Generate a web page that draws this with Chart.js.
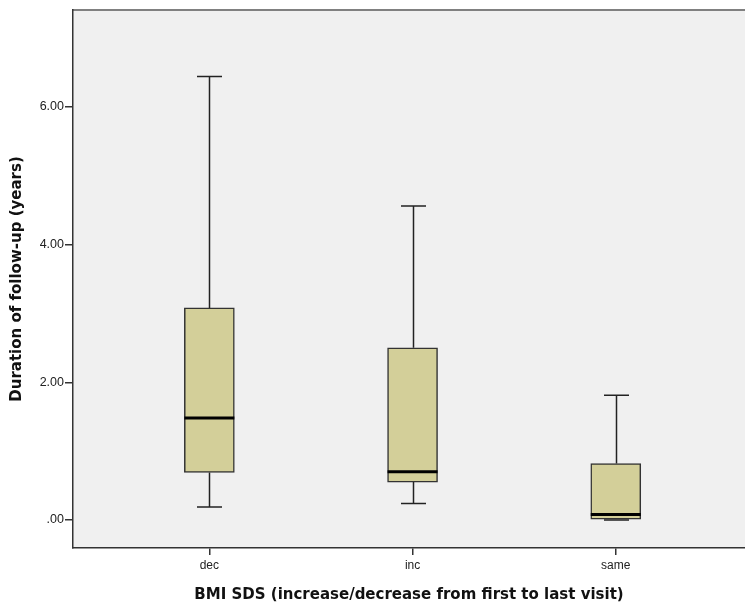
<!DOCTYPE html>
<html>
<head>
  <title>Box plot - duration of follow-up</title>
  <script src="https://cdn.jsdelivr.net/npm/chart.js"></script>
  <style>
    html, body { margin: 0; padding: 0; background: #fff; }
    #wrap { width: 745px; height: 608px; }
  </style>
</head>
<body>
  <div id="wrap"><canvas id="myChart"></canvas></div>
  <script>
    // values (years)
    const groups = ['dec', 'inc', 'same'];
    const groupPos = [1, 2, 3];
    const whiskerLow = [0.19, 0.24, 0.00];
    const q1 = [0.69, 0.55, 0.00];
    const median = [1.48, 0.70, 0.08];
    const q3 = [3.08, 2.50, 0.82];
    const whiskerHigh = [6.44, 4.56, 1.81];
    const yTicks = [0, 2, 4, 6];
    const yTickLabels = ['.00', '2.00', '4.00', '6.00'];

    const boxData = groupPos.map((x, i) => ({ x: x, y: [q1[i], q3[i]] }));

    // whiskers, caps and median drawn with the chart's own scales
    const boxExtras = {
      id: 'boxExtras',
      beforeDraw(chart) {
        const { ctx, chartArea: a } = chart;
        ctx.save();
        ctx.fillStyle = '#f0f0f0';
        ctx.fillRect(a.left, a.top, a.right - a.left, a.bottom - a.top);
        ctx.strokeStyle = '#808080';
        ctx.lineWidth = 2;
        ctx.beginPath();
        ctx.moveTo(a.left, a.top);
        ctx.lineTo(a.right, a.top);
        ctx.stroke();
        ctx.restore();
      },
      afterDatasetsDraw(chart) {
        const { ctx, scales: { x, y } } = chart;
        ctx.save();
        ctx.strokeStyle = '#222';
        ctx.lineWidth = 1.5;
        groupPos.forEach((p, i) => {
          const cx = Math.round(x.getPixelForValue(p)) + 0.5;
          const lo = y.getPixelForValue(whiskerLow[i]);
          const hi = y.getPixelForValue(whiskerHigh[i]);
          const b1 = y.getPixelForValue(q1[i]);
          const b3 = y.getPixelForValue(q3[i]);
          ctx.beginPath();
          ctx.moveTo(cx, b3); ctx.lineTo(cx, hi);
          ctx.moveTo(cx - 12.5, hi); ctx.lineTo(cx + 12.5, hi);
          if (b1 - lo !== 0) {
            ctx.moveTo(cx, b1); ctx.lineTo(cx, lo);
          }
          ctx.moveTo(cx - 12.5, lo); ctx.lineTo(cx + 12.5, lo);
          ctx.stroke();
        });
        ctx.strokeStyle = '#000';
        ctx.lineWidth = 3;
        groupPos.forEach((p, i) => {
          const cx = x.getPixelForValue(p);
          const m = y.getPixelForValue(median[i]);
          ctx.beginPath();
          ctx.moveTo(cx - 25, m); ctx.lineTo(cx + 25, m);
          ctx.stroke();
        });
        ctx.restore();
      }
    };

    const ctx = document.getElementById('myChart').getContext('2d');
    new Chart(ctx, {
      type: 'bar',
      data: {
        datasets: [{
          label: 'Duration of follow-up',
          data: boxData,
          backgroundColor: 'rgb(211, 207, 153)',
          borderColor: '#333',
          borderWidth: 1.5,
          borderSkipped: false,
          barThickness: 50
        }]
      },
      options: {
        responsive: true,
        maintainAspectRatio: false,
        animation: false,
        layout: { padding: { top: 10, right: 0, left: 0, bottom: 0 } },
        plugins: { legend: { display: false }, tooltip: { enabled: false } },
        scales: {
          x: {
            type: 'linear',
            min: 0.329,
            max: 3.636,
            offset: false,
            afterBuildTicks: (scale) => { scale.ticks = groupPos.map(v => ({ value: v })); },
            afterFit: (scale) => { scale.height = 60; },
            ticks: {
              autoSkip: false,
              maxRotation: 0,
              padding: 3,
              color: '#222',
              font: { family: 'Liberation Sans', size: 12 },
              callback: (v) => groups[groupPos.indexOf(v)]
            },
            grid: { offset: false, drawOnChartArea: false, drawTicks: true, tickLength: 7, color: '#333', lineWidth: 1.5 },
            border: { display: true, color: '#333', width: 1.5 },
            title: {
              display: true,
              text: 'BMI SDS (increase/decrease from first to last visit)',
              color: '#111',
              font: { family: 'DejaVu Sans', size: 15, weight: 'bold' },
              padding: { top: 0, bottom: 4 }
            }
          },
          y: {
            min: -0.407,
            max: 7.407,
            afterBuildTicks: (scale) => { scale.ticks = yTicks.map(v => ({ value: v })); },
            afterFit: (scale) => { scale.width = 73; },
            ticks: {
              padding: 1,
              color: '#222',
              font: { family: 'Liberation Sans', size: 12.5 },
              callback: (v) => yTickLabels[yTicks.indexOf(v)]
            },
            grid: { drawOnChartArea: false, drawTicks: true, tickLength: 8, color: '#333', lineWidth: 1.5 },
            border: { display: true, color: '#333', width: 1.5 },
            title: {
              display: true,
              text: 'Duration of follow-up (years)',
              color: '#111',
              font: { family: 'DejaVu Sans', size: 15, weight: 'bold' },
              padding: { top: 8, bottom: 0 }
            }
          }
        }
      },
      plugins: [boxExtras]
    });
  </script>
</body>
</html>
